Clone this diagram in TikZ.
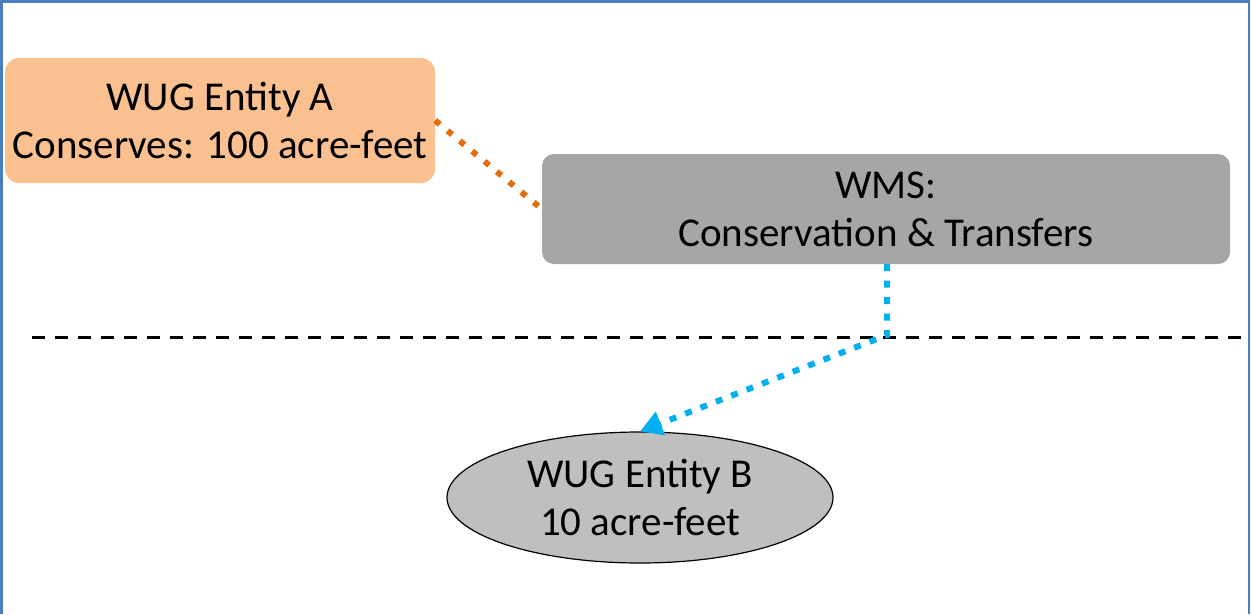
\documentclass[tikz,border=0pt]{standalone}
\usepackage{fontspec}
\setmainfont{Carlito}
\usetikzlibrary{arrows.meta,shapes.geometric}
\definecolor{frameblue}{HTML}{4A7EC0}
\definecolor{lightorange}{HTML}{FAC090}
\definecolor{darkorange}{HTML}{E46C0A}
\definecolor{wmsgray}{HTML}{A6A6A6}
\definecolor{ellgray}{HTML}{BFBFBF}
\definecolor{skyblue}{HTML}{00B0F0}
\tikzset{
  lbl/.style={font=\fontsize{41}{48}\selectfont, align=center, text=black, inner sep=0pt},
  boxA/.style={lbl, fill=lightorange, rounded corners=14pt, minimum width=430pt, minimum height=125pt},
  boxW/.style={lbl, fill=wmsgray, rounded corners=12pt, minimum width=688pt, minimum height=110pt},
  ellB/.style={lbl, ellipse, draw=black, line width=1.2pt, fill=ellgray, minimum width=386pt, minimum height=131pt},
  orangedots/.style={draw=darkorange, line width=6pt, dash pattern=on 6pt off 10pt},
  bluedots/.style={draw=skyblue, line width=6pt, dash pattern=on 7pt off 9.5pt},
  divider/.style={draw=black, line width=3pt, dash pattern=on 13pt off 10pt},
  frameline/.style={draw=frameblue, line width=2.5pt}
}
\begin{document}
\begin{tikzpicture}[x=1pt,y=-1pt]
\useasboundingbox (0,0) rectangle (1251,614);
% frame (left, top, right)
\coordinate (f1) at (1.25,614);
\coordinate (f2) at (1.25,1.25);
\coordinate (f3) at (1249,1.25);
\coordinate (f4) at (1249,614);
\draw[frameline] (f1) -- (f2) -- (f3) -- (f4);
% nodes
\node[boxA] (A) at (220,120.5) {WUG Entity A\\Conserves: 100 acre-feet};
\node[boxW] (W) at (886,209) {WMS:\\Conservation \& Transfers};
\node[ellB] (B) at (640,497.5) {WUG Entity B\\10 acre-feet};
% divider
\coordinate (dl) at (32,337);
\coordinate (dr) at (1251,337);
\draw[divider] (dl) -- (dr);
% connectors
\draw[orangedots] (A.east) -- (W.west);
\coordinate (bend) at (887,335);
\draw[bluedots, -{Triangle[length=22pt,width=24pt]}] (W.south -| bend) -- (bend) -- (B.north);
\end{tikzpicture}
\end{document}
